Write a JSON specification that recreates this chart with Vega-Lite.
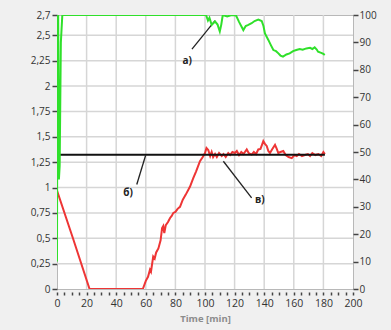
{
  "$schema": "https://vega.github.io/schema/vega-lite/v6.json",
  "width": 296,
  "height": 274,
  "autosize": {"type": "none"},
  "padding": {"left": 57, "top": 15, "right": 38, "bottom": 41},
  "background": "#f0f0f0",
  "config": {
    "view": {"fill": "white", "stroke": "#b8b8b8", "strokeWidth": 1},
    "axis": {"labelFont": "Open Sans", "labelFontSize": 10, "labelColor": "#333333", "tickColor": "#444444", "domain": false, "labelBound": false, "labelFlush": false, "grid": false}
  },
  "layer": [
    {
      "data": {"values": [
        {"t": 20}, {"t": 40}, {"t": 60}, {"t": 80}, {"t": 100}, {"t": 120}, {"t": 140}, {"t": 160}, {"t": 180}
      ]},
      "mark": {"type": "rule", "color": "#d6d6d6", "strokeWidth": 1.5},
      "encoding": {
        "x": {"field": "t", "type": "quantitative", "scale": {"domain": [0, 200], "nice": false},
          "axis": {"title": "Time [min]", "titleFont": "Open Sans", "titleFontSize": 9.5, "titleFontWeight": "bold", "titleColor": "#8c8c8c", "titlePadding": 5,
            "values": [0,5,10,15,20,25,30,35,40,45,50,55,60,65,70,75,80,85,90,95,100,105,110,115,120,125,130,135,140,145,150,155,160,165,170,175,180,185,190,195,200],
            "labelExpr": "datum.value % 20 === 0 ? datum.label : ''", "labelOverlap": false, "labelFontSize": 10.5, "labelPadding": 3, "offset": 3,
            "tickSize": 3, "tickWidth": 1.5, "grid": false}}
      }
    },
    {
      "data": {"values": [
        {"gy": 0.25}, {"gy": 0.5}, {"gy": 0.75}, {"gy": 1}, {"gy": 1.25}, {"gy": 1.5}, {"gy": 1.75}, {"gy": 2}, {"gy": 2.25}, {"gy": 2.5}
      ]},
      "mark": {"type": "rule", "color": "#d6d6d6", "strokeWidth": 1.5},
      "encoding": {
        "y": {"field": "gy", "type": "quantitative", "scale": {"domain": [0, 2.7], "nice": false}, "axis": null}
      }
    },
    {
      "data": {"values": [
        {"t": 0, "v": 0.97}, {"t": 11, "v": 0.49}, {"t": 22, "v": 0.0}, {"t": 40, "v": 0.0}, {"t": 58, "v": 0.0},
        {"t": 60, "v": 0.08}, {"t": 61.5, "v": 0.12}, {"t": 62.8, "v": 0.19}, {"t": 63.5, "v": 0.17}, {"t": 65, "v": 0.32},
        {"t": 66, "v": 0.3}, {"t": 67, "v": 0.36}, {"t": 68.5, "v": 0.4}, {"t": 70, "v": 0.48}, {"t": 71, "v": 0.6},
        {"t": 71.8, "v": 0.62}, {"t": 72.5, "v": 0.55}, {"t": 73.5, "v": 0.63}, {"t": 75, "v": 0.66}, {"t": 76.4, "v": 0.7},
        {"t": 77.5, "v": 0.72}, {"t": 78.6, "v": 0.75}, {"t": 80, "v": 0.76}, {"t": 81.5, "v": 0.79}, {"t": 83.1, "v": 0.81},
        {"t": 85, "v": 0.88}, {"t": 87, "v": 0.93}, {"t": 89.9, "v": 1.01}, {"t": 92, "v": 1.09}, {"t": 94, "v": 1.16},
        {"t": 96.6, "v": 1.26}, {"t": 98.5, "v": 1.3}, {"t": 100, "v": 1.34}, {"t": 101, "v": 1.39}, {"t": 102.2, "v": 1.37},
        {"t": 103.5, "v": 1.31}, {"t": 104.5, "v": 1.35}, {"t": 105.5, "v": 1.3}, {"t": 106.8, "v": 1.33}, {"t": 108, "v": 1.3},
        {"t": 109.5, "v": 1.34}, {"t": 111.3, "v": 1.31}, {"t": 112.5, "v": 1.33}, {"t": 114, "v": 1.3}, {"t": 115.7, "v": 1.34},
        {"t": 117, "v": 1.32}, {"t": 118.5, "v": 1.35}, {"t": 120.2, "v": 1.34}, {"t": 121.5, "v": 1.36}, {"t": 123, "v": 1.32},
        {"t": 124.5, "v": 1.35}, {"t": 126, "v": 1.33}, {"t": 128.2, "v": 1.375}, {"t": 129.5, "v": 1.34}, {"t": 131.5, "v": 1.325},
        {"t": 133, "v": 1.35}, {"t": 134.5, "v": 1.33}, {"t": 136, "v": 1.375}, {"t": 137.5, "v": 1.38}, {"t": 138.5, "v": 1.42},
        {"t": 139.4, "v": 1.457}, {"t": 140.5, "v": 1.43}, {"t": 141.7, "v": 1.41}, {"t": 142.8, "v": 1.36}, {"t": 143.9, "v": 1.34},
        {"t": 145.5, "v": 1.38}, {"t": 147.3, "v": 1.42}, {"t": 148.5, "v": 1.38}, {"t": 149.5, "v": 1.34}, {"t": 151, "v": 1.35},
        {"t": 152.9, "v": 1.36}, {"t": 154.5, "v": 1.32}, {"t": 156.5, "v": 1.3}, {"t": 158.6, "v": 1.29}, {"t": 160.5, "v": 1.32},
        {"t": 162, "v": 1.31}, {"t": 163.5, "v": 1.33}, {"t": 165.5, "v": 1.31}, {"t": 167.5, "v": 1.32}, {"t": 169.5, "v": 1.33},
        {"t": 171, "v": 1.31}, {"t": 172.5, "v": 1.34}, {"t": 174.5, "v": 1.32}, {"t": 176.6, "v": 1.33}, {"t": 178.5, "v": 1.31},
        {"t": 180, "v": 1.35}, {"t": 181, "v": 1.33}
      ]},
      "mark": {"type": "line", "color": "#ee3535", "strokeWidth": 2, "clip": true},
      "encoding": {
        "x": {"field": "t", "type": "quantitative", "scale": {"domain": [0, 200], "nice": false},
          "axis": {"title": "Time [min]", "titleFont": "Open Sans", "titleFontSize": 9.5, "titleFontWeight": "bold", "titleColor": "#8c8c8c", "titlePadding": 5,
            "values": [0,5,10,15,20,25,30,35,40,45,50,55,60,65,70,75,80,85,90,95,100,105,110,115,120,125,130,135,140,145,150,155,160,165,170,175,180,185,190,195,200],
            "labelExpr": "datum.value % 20 === 0 ? datum.label : ''", "labelOverlap": false, "labelFontSize": 10.5, "labelPadding": 3, "offset": 3,
            "tickSize": 3, "tickWidth": 1.5, "grid": false}},
        "y": {"field": "v", "type": "quantitative", "scale": {"domain": [0, 2.7], "nice": false},
          "axis": {"title": null, "orient": "left", "values": [0,0.25,0.5,0.75,1,1.25,1.5,1.75,2,2.25,2.5,2.7],
            "labelExpr": "replace(toString(datum.value), '.', ',')", "labelOverlap": false, "tickSize": 5, "tickWidth": 1.5, "labelPadding": 2, "grid": false}}
      }
    },
    {
      "data": {"values": [{"t": 0, "t2": 181, "v": 1.322}]},
      "mark": {"type": "rule", "color": "#111111", "strokeWidth": 2},
      "encoding": {
        "x": {"field": "t", "type": "quantitative", "scale": {"domain": [0, 200], "nice": false},
          "axis": {"title": "Time [min]", "titleFont": "Open Sans", "titleFontSize": 9.5, "titleFontWeight": "bold", "titleColor": "#8c8c8c", "titlePadding": 5,
            "values": [0,5,10,15,20,25,30,35,40,45,50,55,60,65,70,75,80,85,90,95,100,105,110,115,120,125,130,135,140,145,150,155,160,165,170,175,180,185,190,195,200],
            "labelExpr": "datum.value % 20 === 0 ? datum.label : ''", "labelOverlap": false, "labelFontSize": 10.5, "labelPadding": 3, "offset": 3,
            "tickSize": 3, "tickWidth": 1.5, "grid": false}},
        "x2": {"field": "t2"},
        "y": {"field": "v", "type": "quantitative", "scale": {"domain": [0, 2.7], "nice": false}, "axis": null}
      }
    },
    {
      "data": {"values": [
        {"t": 91.2, "y": 2.364, "t2": 106.8, "y2": 2.644},
        {"t": 53.9, "y": 1.03, "t2": 59.9, "y2": 1.318},
        {"t": 131.5, "y": 0.897, "t2": 112.4, "y2": 1.259}
      ]},
      "mark": {"type": "rule", "color": "#222222", "strokeWidth": 1.3},
      "encoding": {
        "x": {"field": "t", "type": "quantitative", "scale": {"domain": [0, 200], "nice": false},
          "axis": {"title": "Time [min]", "titleFont": "Open Sans", "titleFontSize": 9.5, "titleFontWeight": "bold", "titleColor": "#8c8c8c", "titlePadding": 5,
            "values": [0,5,10,15,20,25,30,35,40,45,50,55,60,65,70,75,80,85,90,95,100,105,110,115,120,125,130,135,140,145,150,155,160,165,170,175,180,185,190,195,200],
            "labelExpr": "datum.value % 20 === 0 ? datum.label : ''", "labelOverlap": false, "labelFontSize": 10.5, "labelPadding": 3, "offset": 3,
            "tickSize": 3, "tickWidth": 1.5, "grid": false}},
        "x2": {"field": "t2"},
        "y": {"field": "y", "type": "quantitative", "scale": {"domain": [0, 2.7], "nice": false}, "axis": null},
        "y2": {"field": "y2"}
      }
    },
    {
      "data": {"values": [
        {"t": 88.0, "y": 2.25, "label": "а)"},
        {"t": 48.0, "y": 0.95, "label": "б)"},
        {"t": 137.0, "y": 0.88, "label": "в)"}
      ]},
      "mark": {"type": "text", "font": "Open Sans", "fontSize": 10, "fontWeight": "bold", "color": "#222222", "align": "center", "baseline": "middle"},
      "encoding": {
        "x": {"field": "t", "type": "quantitative", "scale": {"domain": [0, 200], "nice": false},
          "axis": {"title": "Time [min]", "titleFont": "Open Sans", "titleFontSize": 9.5, "titleFontWeight": "bold", "titleColor": "#8c8c8c", "titlePadding": 5,
            "values": [0,5,10,15,20,25,30,35,40,45,50,55,60,65,70,75,80,85,90,95,100,105,110,115,120,125,130,135,140,145,150,155,160,165,170,175,180,185,190,195,200],
            "labelExpr": "datum.value % 20 === 0 ? datum.label : ''", "labelOverlap": false, "labelFontSize": 10.5, "labelPadding": 3, "offset": 3,
            "tickSize": 3, "tickWidth": 1.5, "grid": false}},
        "y": {"field": "y", "type": "quantitative", "scale": {"domain": [0, 2.7], "nice": false}, "axis": null},
        "text": {"field": "label"}
      }
    },
    {
      "data": {"values": [
        {"t": 0, "p": 10}, {"t": 0.3, "p": 100}, {"t": 0.8, "p": 100}, {"t": 1.3, "p": 40}, {"t": 1.8, "p": 45},
        {"t": 2.6, "p": 90}, {"t": 3.6, "p": 100}, {"t": 20, "p": 100}, {"t": 60, "p": 100}, {"t": 100.7, "p": 100},
        {"t": 102, "p": 98}, {"t": 103, "p": 99}, {"t": 104.5, "p": 96.4}, {"t": 106.8, "p": 97.6}, {"t": 108.5, "p": 96.5},
        {"t": 110, "p": 94}, {"t": 111, "p": 96.5}, {"t": 112, "p": 100}, {"t": 115, "p": 99.5}, {"t": 118, "p": 100},
        {"t": 121, "p": 99.8}, {"t": 123, "p": 97.5}, {"t": 125.9, "p": 94.5}, {"t": 127.5, "p": 96}, {"t": 129.3, "p": 96.4},
        {"t": 131.5, "p": 97}, {"t": 133.5, "p": 97.8}, {"t": 136, "p": 98.3}, {"t": 138.3, "p": 97.8}, {"t": 139.5, "p": 96},
        {"t": 140.5, "p": 93.3}, {"t": 142.8, "p": 90.9}, {"t": 144.5, "p": 89}, {"t": 146.2, "p": 87.2}, {"t": 148, "p": 86.8},
        {"t": 149.6, "p": 86}, {"t": 151, "p": 85.2}, {"t": 152.7, "p": 84.8}, {"t": 155, "p": 85.6}, {"t": 157.2, "p": 86},
        {"t": 159.5, "p": 86.8}, {"t": 161.7, "p": 87.2}, {"t": 164, "p": 87.6}, {"t": 166, "p": 87.3}, {"t": 168.5, "p": 87.8},
        {"t": 171, "p": 88}, {"t": 172.5, "p": 87.6}, {"t": 174.1, "p": 88.2}, {"t": 175.5, "p": 87.4}, {"t": 176.4, "p": 86.6},
        {"t": 178.5, "p": 86.2}, {"t": 180, "p": 85.8}, {"t": 180.9, "p": 85.4}
      ]},
      "mark": {"type": "line", "color": "#2fe02a", "strokeWidth": 2, "clip": true},
      "encoding": {
        "x": {"field": "t", "type": "quantitative", "scale": {"domain": [0, 200], "nice": false},
          "axis": {"title": "Time [min]", "titleFont": "Open Sans", "titleFontSize": 9.5, "titleFontWeight": "bold", "titleColor": "#8c8c8c", "titlePadding": 5,
            "values": [0,5,10,15,20,25,30,35,40,45,50,55,60,65,70,75,80,85,90,95,100,105,110,115,120,125,130,135,140,145,150,155,160,165,170,175,180,185,190,195,200],
            "labelExpr": "datum.value % 20 === 0 ? datum.label : ''", "labelOverlap": false, "labelFontSize": 10.5, "labelPadding": 3, "offset": 3,
            "tickSize": 3, "tickWidth": 1.5, "grid": false}},
        "y": {"field": "p", "type": "quantitative", "scale": {"domain": [0, 100], "nice": false},
          "axis": {"title": null, "orient": "right", "values": [0,10,20,30,40,50,60,70,80,90,100], "labelOverlap": false, "tickSize": 5, "tickWidth": 1.5, "labelPadding": 1, "grid": false}}
      }
    }
  ],
  "resolve": {"scale": {"y": "independent"}}
}
